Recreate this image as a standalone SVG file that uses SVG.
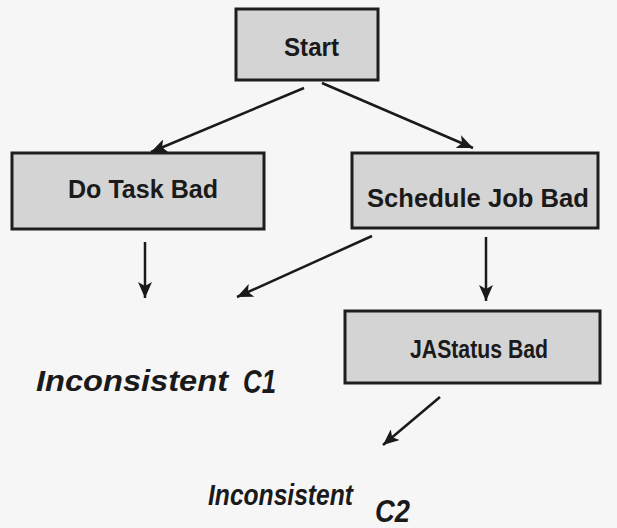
<svg xmlns="http://www.w3.org/2000/svg" width="617" height="528" viewBox="0 0 617 528">
<defs>
<style>
.box{fill:#d4d4d4;stroke:#1e1e1e;stroke-width:3}
.lbl{font-family:"Liberation Sans",Arial,sans-serif;font-weight:bold;font-size:25px;fill:#1a1a1a}
.it{font-family:"Liberation Sans",Arial,sans-serif;font-weight:bold;font-style:italic;fill:#1a1a1a}
.edge{stroke:#1a1a1a;stroke-width:2.5;fill:none;marker-end:url(#ah)}
</style>
<marker id="ah" markerUnits="userSpaceOnUse" markerWidth="18" markerHeight="14" refX="16" refY="7" orient="auto">
<path d="M0,0 L16,7 L0,14 L4,7 Z" fill="#1a1a1a"/>
</marker>
</defs>
<rect x="0" y="0" width="617" height="528" fill="#f6f6f6"/>
<g id="start">
<rect class="box" x="236" y="9" width="142" height="71"/>
<text class="lbl" x="284" y="56" textLength="55" lengthAdjust="spacingAndGlyphs">Start</text>
</g>
<g id="do-task-bad">
<rect class="box" x="12" y="153" width="252" height="76"/>
<text class="lbl" x="68" y="198" textLength="150" lengthAdjust="spacingAndGlyphs">Do Task Bad</text>
</g>
<g id="schedule-job-bad">
<rect class="box" x="352" y="153" width="246" height="75"/>
<text class="lbl" x="367" y="207" textLength="222" lengthAdjust="spacingAndGlyphs">Schedule Job Bad</text>
</g>
<g id="jastatus-bad">
<rect class="box" x="345" y="311" width="255" height="72"/>
<text class="lbl" x="410" y="358" textLength="138" lengthAdjust="spacingAndGlyphs">JAStatus Bad</text>
</g>
<g id="inconsistent-c1">
<text class="it" x="36" y="391" font-size="30" textLength="192" lengthAdjust="spacingAndGlyphs">Inconsistent</text>
<text class="it" x="243" y="393" font-size="33" textLength="33" lengthAdjust="spacingAndGlyphs">C1</text>
</g>
<g id="inconsistent-c2">
<text class="it" x="208" y="505" font-size="30" textLength="145" lengthAdjust="spacingAndGlyphs">Inconsistent</text>
<text class="it" x="375" y="522" font-size="32" textLength="35" lengthAdjust="spacingAndGlyphs">C2</text>
</g>
<g id="connectors">
<line class="edge" x1="304" y1="88" x2="151" y2="152"/>
<line class="edge" x1="322" y1="83" x2="473" y2="148"/>
<line class="edge" x1="145" y1="242" x2="145" y2="298"/>
<line class="edge" x1="372" y1="236" x2="237" y2="297"/>
<line class="edge" x1="486" y1="237" x2="486" y2="301"/>
<line class="edge" x1="440" y1="397" x2="383" y2="445"/>
</g>
</svg>
